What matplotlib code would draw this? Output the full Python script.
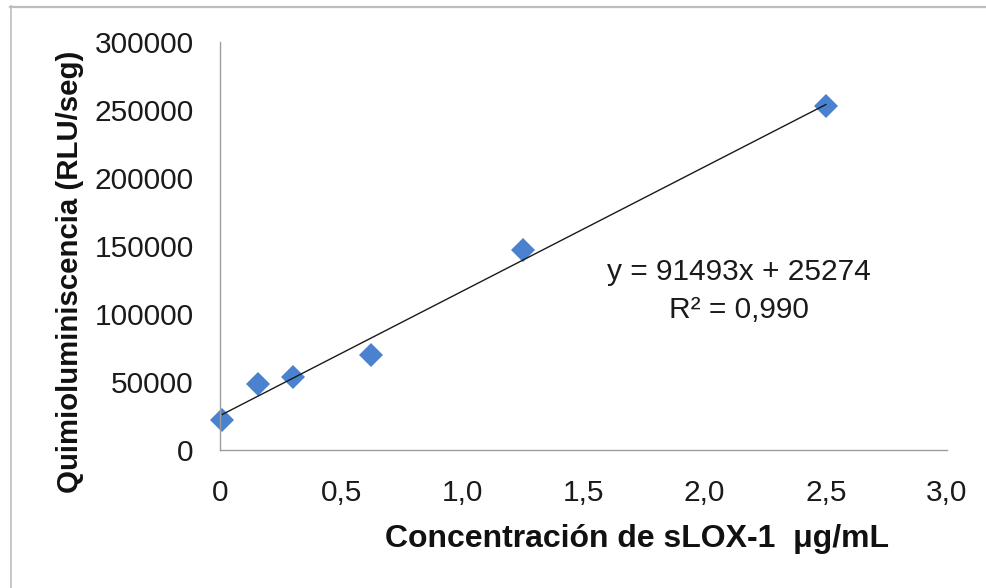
import matplotlib
matplotlib.use("Agg")
import matplotlib.pyplot as plt
from matplotlib.lines import Line2D

plt.rcParams['font.family'] = ['Liberation Sans', 'DejaVu Sans']

# Calibration data: sLOX-1 concentration (µg/mL) vs chemiluminescence (RLU/s)
conc = [0.01, 0.156, 0.30, 0.625, 1.25, 2.5]
signal = [22060, 48530, 53460, 69630, 147060, 252940]

# Linear fit reported on the chart
slope = 91493
intercept = 25274
r2_text = "0,990"

x_ticks = [0, 0.5, 1.0, 1.5, 2.0, 2.5, 3.0]
x_ticklabels = ["0", "0,5", "1,0", "1,5", "2,0", "2,5", "3,0"]
y_ticks = [0, 50000, 100000, 150000, 200000, 250000, 300000]
y_ticklabels = ["0", "50000", "100000", "150000", "200000", "250000", "300000"]

W, H = 986, 588
fig = plt.figure(figsize=(W / 100, H / 100), dpi=100)
fig.patch.set_facecolor("white")

# outer chart frame (top and left edges)
frame_col = "#BDBDBD"
fig.add_artist(Line2D([10 / W, 1.0], [1 - 6.5 / H, 1 - 6.5 / H], color=frame_col, lw=1.6,
                      transform=fig.transFigure))
fig.add_artist(Line2D([10.5 / W, 10.5 / W], [0.0, 1 - 6 / H], color=frame_col, lw=1.2,
                      transform=fig.transFigure))

ax = fig.add_axes([220 / W, 1 - 450 / H, (947 - 220) / W, (450 - 42) / H])
ax.set_xlim(0, 3.0)
ax.set_ylim(0, 300000)

for s in ("top", "right"):
    ax.spines[s].set_visible(False)
for s in ("left", "bottom"):
    ax.spines[s].set_color("#9E9E9E")
    ax.spines[s].set_linewidth(1.0)

ax.set_xticks(x_ticks)
ax.set_xticklabels(x_ticklabels)
ax.set_yticks(y_ticks)
ax.set_yticklabels(y_ticklabels)
ax.tick_params(axis="both", length=0, labelsize=21.5, colors="#1a1a1a")
ax.tick_params(axis="x", pad=21)
ax.tick_params(axis="y", pad=19)

# trend line over the data range
x0, x1 = min(conc), max(conc)
ax.plot([x0, x1], [slope * x0 + intercept, slope * x1 + intercept],
        color="#1a1a1a", lw=1.0, zorder=3, clip_on=False)

ax.plot(conc, signal, linestyle="none", marker="D", markersize=12,
        color="#4A82CF", markeredgewidth=0, zorder=2, clip_on=False)

fig.text(739 / W, 1 - 272 / H, f"y = {slope}x + {intercept}", fontsize=21.5,
         ha="center", va="center", color="#1a1a1a")
fig.text(739 / W, 1 - 310 / H, f"R² = {r2_text}", fontsize=21.5,
         ha="center", va="center", color="#1a1a1a")

fig.text(385 / W, 1 - 547 / H, "Concentración de sLOX-1  μg/mL", fontsize=23,
         fontweight="bold", ha="left", va="baseline", color="#111111")
fig.text(70 / W, 1 - 271.5 / H, "Quimioluminiscencia (RLU/seg)", fontsize=21.2,
         fontweight="bold", ha="center", va="center", rotation=90, color="#111111")

fig.savefig("out.png", dpi=100, facecolor="white")
